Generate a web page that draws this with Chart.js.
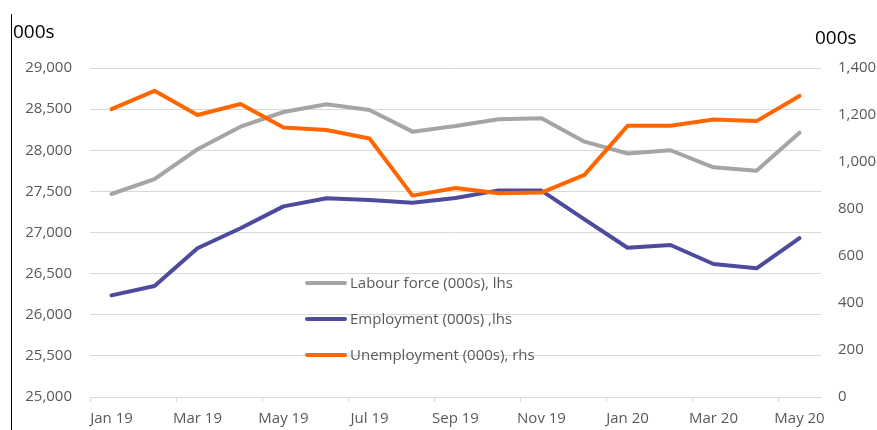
<!DOCTYPE html>
<html>
<head>
<meta charset="utf-8">
<script src="https://cdn.jsdelivr.net/npm/chart.js@4.4.1/dist/chart.umd.min.js"></script>
<style>
  html, body { margin: 0; padding: 0; background: #fff; }
  #wrap { width: 877px; height: 430px; position: relative; }
</style>
</head>
<body>
<div id="wrap"><canvas id="c" width="877" height="430"></canvas></div>
<script>
const categories = ['Jan 19','Feb 19','Mar 19','Apr 19','May 19','Jun 19','Jul 19','Aug 19','Sep 19','Oct 19','Nov 19','Dec 19','Jan 20','Feb 20','Mar 20','Apr 20','May 20'];
const labourForce = [27468, 27650, 28012, 28286, 28465, 28559, 28489, 28226, 28295, 28376, 28388, 28104, 27960, 28000, 27793, 27751, 28214];
const employment = [26236, 26350, 26808, 27051, 27318, 27416, 27395, 27362, 27420, 27512, 27510, 27160, 26815, 26848, 26617, 26565, 26932];
const unemployment = [1225, 1303, 1200, 1247, 1147, 1136, 1100, 857, 889, 867, 870, 945, 1154, 1154, 1181, 1174, 1281];
const seriesNames = ['Labour force (000s), lhs', 'Employment (000s) ,lhs', 'Unemployment (000s), rhs'];
const seriesColors = ['#A5A5A5', '#4E4B9C', '#FF6600'];
const leftAxis = { min: 25000, max: 29000, step: 500 };
const rightAxis = { min: 0, max: 1400, step: 200 };
const axisTitle = '000s';

const FONT = '"Open Sans", "DejaVu Sans", sans-serif';
const TXT = '#595959';
const GRID = '#D9D9D9';

const overlay = {
  id: 'overlay',
  afterDraw(chart) {
    const ctx = chart.ctx;
    ctx.save();
    ctx.strokeStyle = '#000';
    ctx.lineWidth = 1;
    ctx.beginPath();
    ctx.moveTo(11.5, 14);
    ctx.lineTo(11.5, 430);
    ctx.stroke();
    ctx.fillStyle = '#000';
    ctx.font = '19px ' + FONT;
    ctx.textBaseline = 'middle';
    ctx.textAlign = 'left';
    ctx.fillText(axisTitle, 13, 33);
    ctx.fillText(axisTitle, 815, 39);
    const ys = [283, 319, 355];
    ctx.font = '15px ' + FONT;
    ctx.lineCap = 'round';
    seriesNames.forEach((n, i) => {
      ctx.strokeStyle = seriesColors[i];
      ctx.lineWidth = 4;
      ctx.beginPath();
      ctx.moveTo(307, ys[i]);
      ctx.lineTo(345, ys[i]);
      ctx.stroke();
      ctx.fillStyle = TXT;
      ctx.fillText(n, 350, ys[i] + 0.5);
    });
    ctx.restore();
  }
};

const mk = (label, data, color, axis, order) => ({
  label, data, borderColor: color, backgroundColor: color, yAxisID: axis, order,
  borderWidth: 4, pointRadius: 0, tension: 0, borderJoinStyle: 'round', borderCapStyle: 'round', fill: false
});

new Chart(document.getElementById('c'), {
  type: 'line',
  data: {
    labels: categories,
    datasets: [
      mk(seriesNames[0], labourForce, seriesColors[0], 'yL', 3),
      mk(seriesNames[1], employment, seriesColors[1], 'yL', 2),
      mk(seriesNames[2], unemployment, seriesColors[2], 'yR', 1)
    ]
  },
  options: {
    responsive: false,
    animation: false,
    events: [],
    layout: { padding: { top: 68, left: 0, right: 0, bottom: 0 } },
    plugins: { legend: { display: false }, tooltip: { enabled: false } },
    scales: {
      x: {
        offset: true,
        afterFit(s) { s.height = 33; },
        grid: {
          offset: true,
          drawOnChartArea: false,
          drawTicks: true,
          tickLength: 5,
          color: (c) => (c.index % 2 === 0 ? GRID : 'rgba(0,0,0,0)'),
          lineWidth: 1
        },
        border: { display: true, color: GRID, width: 1 },
        ticks: {
          autoSkip: false, maxRotation: 0, minRotation: 0, padding: 8,
          color: TXT, font: { family: FONT, size: 15 },
          callback: (v, i) => (i % 2 === 0 ? categories[i] : '')
        }
      },
      yL: {
        position: 'left',
        min: leftAxis.min, max: leftAxis.max,
        afterFit(s) { s.width = 90; },
        grid: { color: GRID, lineWidth: 1, drawTicks: false },
        border: { display: false },
        ticks: {
          stepSize: leftAxis.step, padding: 18, color: TXT,
          font: { family: FONT, size: 15 },
          callback: (v) => v.toLocaleString('en-US')
        }
      },
      yR: {
        position: 'right',
        min: rightAxis.min, max: rightAxis.max,
        afterFit(s) { s.width = 56; },
        grid: { display: false, drawOnChartArea: false, drawTicks: false },
        border: { display: false },
        ticks: {
          stepSize: rightAxis.step, padding: 17, color: TXT,
          font: { family: FONT, size: 15 },
          callback: (v) => v.toLocaleString('en-US')
        }
      }
    }
  },
  plugins: [overlay]
});
</script>
</body>
</html>
